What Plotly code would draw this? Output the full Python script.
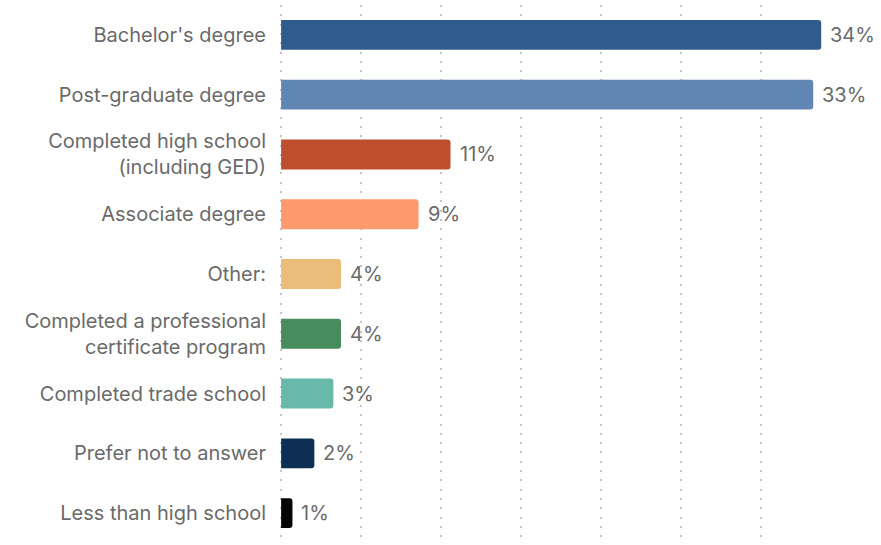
import plotly.graph_objects as go

# Highest level of education completed (share of respondents, %)
categories = [
    "Bachelor's degree",
    "Post-graduate degree",
    "Completed high school<br>(including GED)",
    "Associate degree",
    "Other:",
    "Completed a professional<br>certificate program",
    "Completed trade school",
    "Prefer not to answer",
    "Less than high school",
]
shares = [33.8, 33.3, 10.6, 8.6, 3.75, 3.75, 3.27, 2.08, 0.71]
bar_colors = [
    "#305c8d", "#6286b3", "#be4f2e", "#fc9a6e", "#ebbd7a",
    "#478c5c", "#68b9aa", "#0c2f53", "#050505",
]

TEXT_GREY = "#6a6a6a"
FONT = "Inter"
FONT_SIZE = 20

fig = go.Figure(
    go.Bar(
        x=shares,
        y=categories,
        orientation="h",
        marker=dict(color=bar_colors, cornerradius=3, line=dict(width=0)),
        width=0.5,
        hoverinfo="skip",
    )
)

# value labels to the right of each bar
for cat, val in zip(categories, shares):
    fig.add_annotation(
        x=val, y=cat, text=f"{val:.0f}%", showarrow=False,
        xanchor="left", yanchor="middle", xshift=7,
        font=dict(family=FONT, size=FONT_SIZE, color=TEXT_GREY),
    )

fig.update_layout(
    width=881, height=545,
    margin=dict(l=280, r=47, t=5, b=2),
    paper_bgcolor="white", plot_bgcolor="white",
    showlegend=False,
    font=dict(family=FONT, size=FONT_SIZE, color=TEXT_GREY),
)
fig.update_xaxes(
    range=[-0.07, 34.6], dtick=5, tick0=0,
    showticklabels=False, zeroline=False, showline=False,
    showgrid=True, gridcolor="#c4c4c4", gridwidth=2, griddash="2px,7.3px",
)
fig.update_yaxes(
    categoryorder="array", categoryarray=categories, autorange="reversed",
    showgrid=False, zeroline=False, showline=False,
    ticklabelstandoff=13,
    tickfont=dict(family=FONT, size=FONT_SIZE, color=TEXT_GREY),
)

fig.write_html("out.html")
